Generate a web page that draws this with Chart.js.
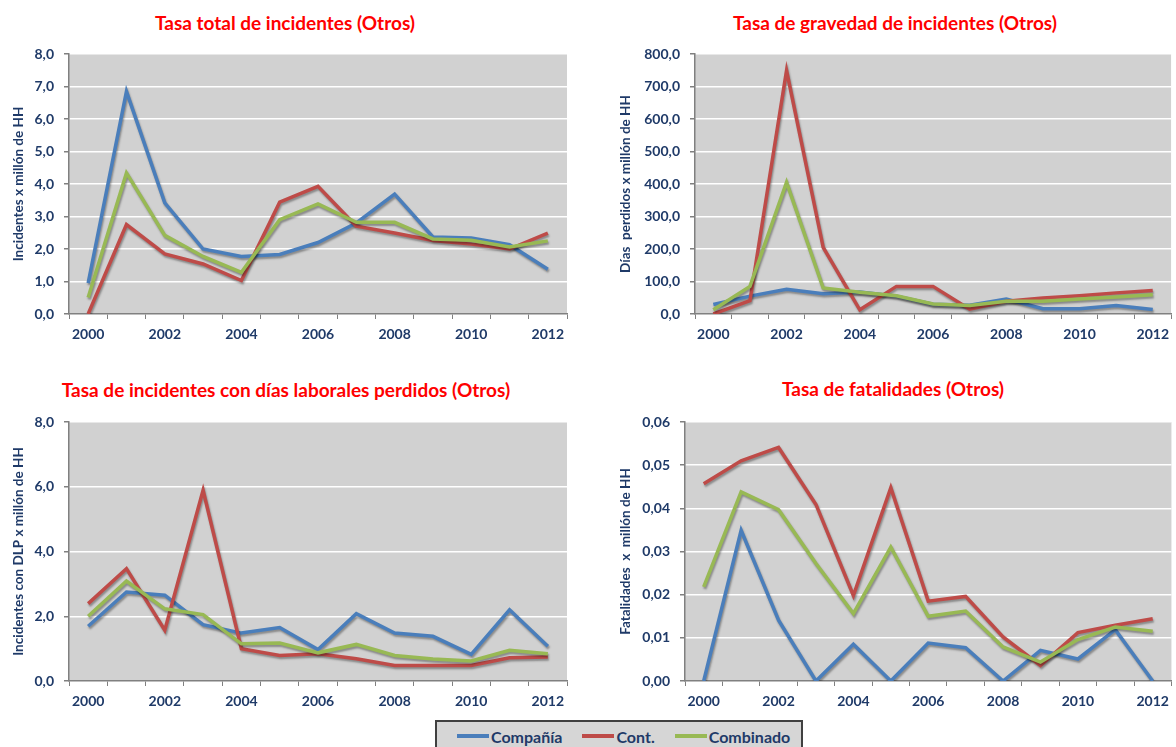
<!DOCTYPE html>
<html>
<head>
<meta charset="utf-8">
<script src="https://cdn.jsdelivr.net/npm/chart.js@4/dist/chart.umd.min.js"></script>
<style>
    body { margin: 0; background: #fff; width: 1176px; height: 747px; overflow: hidden; position: relative; font-family: Lato, sans-serif; }
    canvas { position: absolute; }
    .title { position: absolute; color: #ff0000; font-weight: bold; font-size: 19px; white-space: nowrap; transform: translate(-50%, -50%); }
    #legend { position: absolute; left: 435px; top: 720px; width: 368px; height: 32px; background: #d6d6d6; border: 2px solid #404040; box-sizing: border-box; display: flex; align-items: center; padding-left: 20px; }
    .item { display: flex; align-items: center; margin-right: 20px; color: #1f3a68; font-weight: bold; font-size: 16px; }
    .swatch { width: 32px; height: 4px; margin-right: 2px; }
</style>
</head>
<body>
<div class="title" style="left:285px;top:22px">Tasa total de incidentes (Otros)</div>
<div class="title" style="left:895px;top:22px">Tasa de gravedad de incidentes (Otros)</div>
<div class="title" style="left:286px;top:389px">Tasa de incidentes con días laborales perdidos (Otros)</div>
<div class="title" style="left:893px;top:388px">Tasa de fatalidades (Otros)</div>

<canvas id="c1" width="580" height="355" style="left:0;top:0"></canvas>
<canvas id="c2" width="576" height="355" style="left:600px;top:0"></canvas>
<canvas id="c3" width="580" height="320" style="left:0;top:400px"></canvas>
<canvas id="c4" width="576" height="320" style="left:600px;top:400px"></canvas>

<div id="legend"></div>

<script>
const years = ['2000', '2001', '2002', '2003', '2004', '2005', '2006', '2007', '2008', '2009', '2010', '2011', '2012'];
const seriesNames = ['Compañía', 'Cont.', 'Combinado'];
const seriesColors = ['#4a7ebb', '#be4b48', '#98b954'];

// Tasa total de incidentes
const totalCompania = [0.95, 6.85, 3.42, 2.0, 1.77, 1.83, 2.2, 2.8, 3.69, 2.37, 2.34, 2.13, 1.38];
const totalCont = [0, 2.75, 1.85, 1.54, 1.03, 3.44, 3.93, 2.7, 2.49, 2.26, 2.15, 2.0, 2.49];
const totalComb = [0.51, 4.34, 2.42, 1.77, 1.28, 2.9, 3.39, 2.82, 2.82, 2.31, 2.27, 2.06, 2.25];

// Tasa de gravedad
const gravCompania = [29, 55, 76, 62, 68, 55, 30, 27, 46, 16, 16, 26, 14];
const gravCont = [0, 41, 749, 205, 13, 85, 85, 15, 39, 49, 56, 65, 72];
const gravComb = [13, 85, 405, 80, 67, 56, 31, 26, 39, 39, 46, 52, 59];

// Incidentes con DLP
const dlpCompania = [1.69, 2.75, 2.65, 1.74, 1.48, 1.65, 0.97, 2.08, 1.48, 1.38, 0.82, 2.2, 1.07];
const dlpCont = [2.39, 3.47, 1.57, 5.89, 1.0, 0.79, 0.84, 0.69, 0.48, 0.48, 0.48, 0.72, 0.74];
const dlpComb = [2.0, 3.09, 2.23, 2.05, 1.15, 1.17, 0.87, 1.13, 0.79, 0.68, 0.62, 0.95, 0.84];

// Fatalidades
const fatCompania = [0, 0.0349, 0.0141, 0, 0.0085, 0, 0.0088, 0.0077, 0, 0.0071, 0.0051, 0.0119, 0];
const fatCont = [0.0457, 0.051, 0.0541, 0.0409, 0.0198, 0.0448, 0.0185, 0.0196, 0.0102, 0.0036, 0.0112, 0.0129, 0.0144];
const fatComb = [0.0218, 0.0438, 0.0397, 0.0272, 0.0156, 0.031, 0.015, 0.0162, 0.0079, 0.0044, 0.0096, 0.0125, 0.0115];

const navy = '#1f3a68';
const axisGray = '#808080';

// gray plot area + line shadows
const plotBg = {
    id: 'plotBg',
    beforeDraw(chart) {
        const a = chart.chartArea, ctx = chart.ctx;
        ctx.save();
        ctx.fillStyle = '#d1d1d1';
        ctx.fillRect(a.left, a.top, a.right - a.left, a.bottom - a.top);
        ctx.restore();
    },
    beforeDatasetDraw(chart) {
        const ctx = chart.ctx;
        ctx.save();
        ctx.shadowColor = 'rgba(0,0,0,0.35)';
        ctx.shadowOffsetX = 1;
        ctx.shadowOffsetY = 2;
        ctx.shadowBlur = 2;
    },
    afterDatasetDraw(chart) {
        chart.ctx.restore();
    }
};

function makeChart(id, values, opt) {
    new Chart(document.getElementById(id), {
        type: 'line',
        data: {
            labels: years,
            datasets: values.map((v, i) => ({
                label: seriesNames[i],
                data: v,
                borderColor: seriesColors[i],
                backgroundColor: seriesColors[i],
                borderWidth: 3.5,
                pointRadius: 0,
                tension: 0,
                order: 3 - i
            }))
        },
        options: {
            responsive: false,
            animation: false,
            layout: { padding: { top: opt.top, right: opt.right, left: 0, bottom: 0 } },
            plugins: { legend: { display: false }, tooltip: { enabled: false } },
            scales: {
                x: {
                    offset: true,
                    grid: { offset: true, drawOnChartArea: false, color: axisGray, tickLength: 5 },
                    border: { color: axisGray, width: 1.5 },
                    ticks: {
                        autoSkip: false, maxRotation: 0, padding: 7, color: navy,
                        font: { family: 'Lato', size: 14, weight: 'bold' },
                        callback: (v, i) => i % 2 === 0 ? years[i] : ''
                    },
                    afterFit: s => { s.height = opt.xh; }
                },
                y: {
                    min: opt.min, max: opt.max,
                    grid: {
                        color: c => c.tick && c.tick.value === opt.min ? 'rgba(0,0,0,0)' : '#ffffff',
                        lineWidth: 1.5, tickColor: axisGray, tickLength: 5
                    },
                    border: { color: axisGray, width: 1.5 },
                    ticks: {
                        stepSize: opt.step, padding: 10, color: navy,
                        font: { family: 'Lato', size: 14, weight: 'bold' },
                        callback: v => v.toFixed(opt.dec).replace('.', ',')
                    },
                    title: {
                        display: true, text: opt.title, color: navy,
                        font: { family: 'Lato', size: 13.5, weight: 'bold' },
                        padding: { top: opt.tpad, bottom: 0 }
                    },
                    afterFit: s => { s.width = opt.yw; }
                }
            }
        },
        plugins: [plotBg]
    });
}

makeChart('c1', [totalCompania, totalCont, totalComb],
    { min: 0, max: 8, step: 1, dec: 1, title: 'Incidentes x millón de HH', top: 54, right: 13, xh: 41, yw: 69, tpad: 11 });
makeChart('c2', [gravCompania, gravCont, gravComb],
    { min: 0, max: 800, step: 100, dec: 1, title: 'Días  perdidos x millón de HH', top: 54, right: 0, xh: 41, yw: 95, tpad: 18 });
makeChart('c3', [dlpCompania, dlpCont, dlpComb],
    { min: 0, max: 8, step: 2, dec: 1, title: 'Incidentes con DLP x millón de HH', top: 22, right: 13, xh: 39, yw: 69, tpad: 11 });
makeChart('c4', [fatCompania, fatCont, fatComb],
    { min: 0, max: 0.06, step: 0.01, dec: 2, title: 'Fatalidades  x  millón de HH', top: 22, right: 1, xh: 39, yw: 85, tpad: 18 });

// shared legend
const legend = document.getElementById('legend');
seriesNames.forEach((name, i) => {
    legend.innerHTML += `<div class="item"><div class="swatch" style="background:${seriesColors[i]}"></div>${name}</div>`;
});
</script>
</body>
</html>
